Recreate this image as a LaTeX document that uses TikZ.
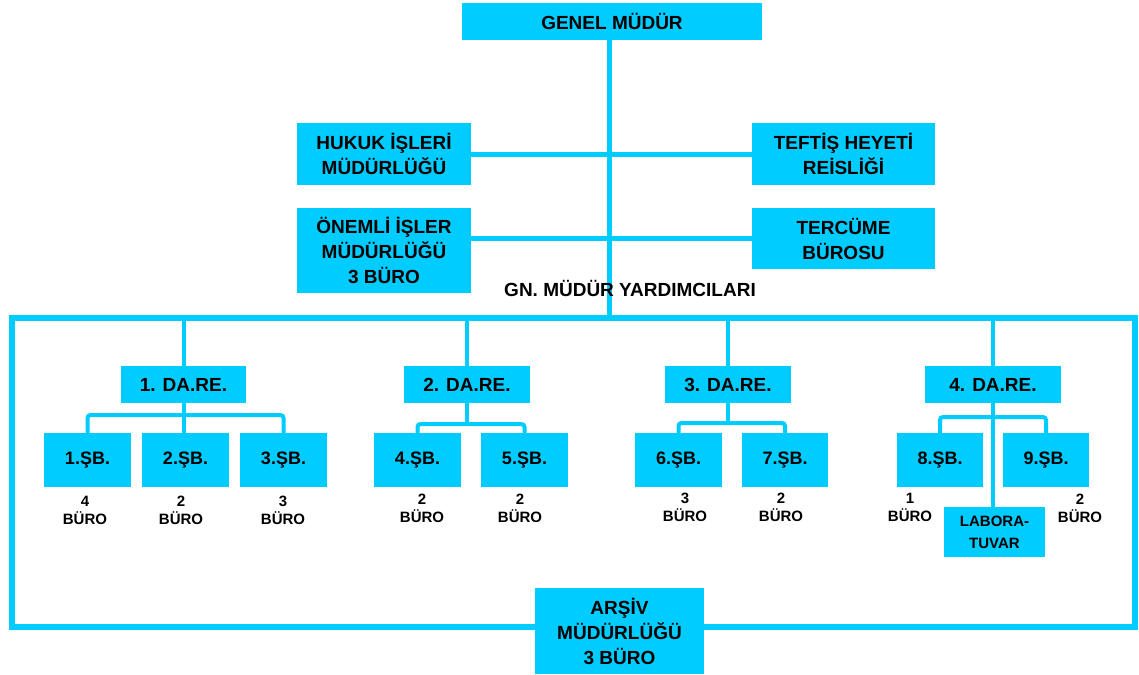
\documentclass[tikz,border=0pt]{standalone}
\usepackage{fontspec}
\setmainfont{Liberation Sans}
\usetikzlibrary{backgrounds}
\definecolor{boxc}{RGB}{0,204,255}
\begin{document}
\begin{tikzpicture}[x=1pt,y=-1pt,
  box/.style={fill=boxc, inner sep=0pt, align=center, text=black,
    font=\fontsize{19}{25}\selectfont\bfseries},
  sbbox/.style={box, minimum width=87pt, minimum height=54pt, font=\fontsize{18}{22}\selectfont\bfseries},
  darebox/.style={box, minimum height=37pt},
  sz/.style 2 args={minimum width=#1pt, minimum height=#2pt},
  buro/.style={inner sep=0pt, align=center, font=\fontsize{15}{18}\selectfont\bfseries},
  conn/.style={draw=boxc, line width=5pt},
  frameline/.style={draw=boxc, line width=6pt},
  br/.style={draw=boxc, line width=4pt, rounded corners=3pt}]
\useasboundingbox (0,0) rectangle (1139,674);

% top level
\node[box, sz={300}{37}] (gm) at (612,21.5) {GENEL MÜDÜR};
\node[box, sz={174}{62}] (huk) at (384,154) {HUKUK İŞLERİ\\MÜDÜRLÜĞÜ};
\node[box, sz={183}{62}] (tef) at (843.5,154) {TEFTİŞ HEYETİ\\REİSLİĞİ};
\node[box, sz={174}{85}] (onem) at (384,250.5) {ÖNEMLİ İŞLER\\MÜDÜRLÜĞÜ\\3 BÜRO};
\node[box, sz={183}{61}] (terc) at (843.5,238.5) {TERCÜME\\BÜROSU};
\node[inner sep=0pt, font=\fontsize{19}{25}\selectfont\bfseries] (gmy) at (630,288) {GN. MÜDÜR YARDIMCILARI};
\coordinate (top) at (609,318);

% departments
\node[darebox, minimum width=125pt] (d1) at (183.5,384.5) {1. DA.RE.};
\node[darebox, minimum width=126pt] (d2) at (467,384.5) {2. DA.RE.};
\node[darebox, minimum width=126pt] (d3) at (728,384.5) {3. DA.RE.};
\node[darebox, minimum width=136pt] (d4) at (993,384.5) {4. DA.RE.};

% branches
\node[sbbox] (s1) at (87.5,460) {1.ŞB.};
\node[sbbox] (s2) at (185.5,460) {2.ŞB.};
\node[sbbox] (s3) at (283.5,460) {3.ŞB.};
\node[sbbox] (s4) at (417.5,460) {4.ŞB.};
\node[sbbox] (s5) at (524.5,460) {5.ŞB.};
\node[sbbox] (s6) at (678.5,460) {6.ŞB.};
\node[sbbox, minimum width=86pt] (s7) at (785,460) {7.ŞB.};
\node[sbbox, minimum width=86pt] (s8) at (940,460) {8.ŞB.};
\node[sbbox, minimum width=86pt] (s9) at (1046,460) {9.ŞB.};
\node[box, sz={101}{50}, font=\fontsize{15}{22}\selectfont\bfseries] (lab) at (994.5,532) {LABORA-\\TUVAR};

% buro labels
\node[buro] (b1) at (85,510) {4\\BÜRO};
\node[buro] (b2) at (181,510) {2\\BÜRO};
\node[buro] (b3) at (283,510) {3\\BÜRO};
\node[buro] (b4) at (422,508) {2\\BÜRO};
\node[buro] (b5) at (520,508) {2\\BÜRO};
\node[buro] (b6) at (685,507) {3\\BÜRO};
\node[buro] (b7) at (781,507.5) {2\\BÜRO};
\node[buro] (b8) at (910,507) {1\\BÜRO};
\node[buro] (b9) at (1080,508) {2\\BÜRO};

% archive
\node[box, sz={169}{86}] (ars) at (619.5,631) {ARŞİV\\MÜDÜRLÜĞÜ\\3 BÜRO};

\begin{pgfonlayer}{background}
  \draw[conn] (gm.south -| top) -- (top);
  \draw[conn] (huk.east) -- (tef.west);
  \draw[conn] (onem.east |- terc.west) -- (terc.west);
  \draw[frameline] (12,318) rectangle (1135,627);
  \foreach \d in {d1,d2,d3,d4} {
    \draw[br] (\d.north) -- (\d.north |- top);
  }
  \draw[br] (s1.north) |- (d1.south |- 0,415) -| (s3.north);
  \draw[br] (d1.south) -- (d1.south |- s2.north);
  \draw[br] (s4.north) |- (d2.south |- 0,424) -| (s5.north);
  \draw[br] (d2.south) -- (d2.south |- 0,424);
  \draw[br] (s6.north) |- (d3.south |- 0,423) -| (s7.north);
  \draw[br] (d3.south) -- (d3.south |- 0,423);
  \draw[br] (s8.north) |- (d4.south |- 0,417) -| (s9.north);
  \draw[br] (d4.south) -- (d4.south |- lab.north);
\end{pgfonlayer}
\end{tikzpicture}
\end{document}
